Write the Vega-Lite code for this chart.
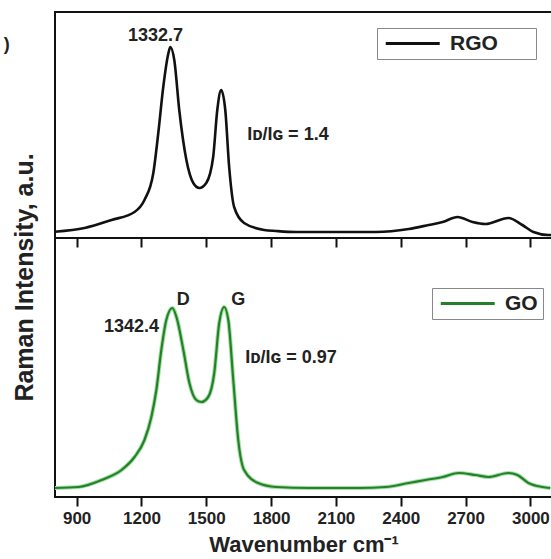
{
  "$schema": "https://vega.github.io/schema/vega-lite/v6.json",
  "padding": {"left": 2, "top": 11, "right": 0, "bottom": 0},
  "background": "white",
  "spacing": 0,
  "bounds": "flush",
  "config": {
    "view": {"stroke": "#111", "strokeWidth": 2},
    "font": "Liberation Sans",
    "axis": {"grid": false}
  },
  "datasets": {
    "rgo": [
      {"wavenumber": 800, "intensity": 6.3, "sample": "RGO"},
      {"wavenumber": 937, "intensity": 10, "sample": "RGO"},
      {"wavenumber": 1062, "intensity": 18, "sample": "RGO"},
      {"wavenumber": 1168, "intensity": 26, "sample": "RGO"},
      {"wavenumber": 1214, "intensity": 38, "sample": "RGO"},
      {"wavenumber": 1255, "intensity": 65, "sample": "RGO"},
      {"wavenumber": 1278, "intensity": 105, "sample": "RGO"},
      {"wavenumber": 1301, "intensity": 151, "sample": "RGO"},
      {"wavenumber": 1325, "intensity": 185, "sample": "RGO"},
      {"wavenumber": 1334, "intensity": 191, "sample": "RGO"},
      {"wavenumber": 1352, "intensity": 178, "sample": "RGO"},
      {"wavenumber": 1375, "intensity": 128, "sample": "RGO"},
      {"wavenumber": 1408, "intensity": 78, "sample": "RGO"},
      {"wavenumber": 1440, "intensity": 55, "sample": "RGO"},
      {"wavenumber": 1468, "intensity": 50, "sample": "RGO"},
      {"wavenumber": 1500, "intensity": 55, "sample": "RGO"},
      {"wavenumber": 1532, "intensity": 81, "sample": "RGO"},
      {"wavenumber": 1551, "intensity": 128, "sample": "RGO"},
      {"wavenumber": 1569, "intensity": 148, "sample": "RGO"},
      {"wavenumber": 1588, "intensity": 128, "sample": "RGO"},
      {"wavenumber": 1606, "intensity": 71, "sample": "RGO"},
      {"wavenumber": 1629, "intensity": 31, "sample": "RGO"},
      {"wavenumber": 1675, "intensity": 15, "sample": "RGO"},
      {"wavenumber": 1768, "intensity": 8, "sample": "RGO"},
      {"wavenumber": 1823, "intensity": 7, "sample": "RGO"},
      {"wavenumber": 1915, "intensity": 6, "sample": "RGO"},
      {"wavenumber": 2132, "intensity": 6, "sample": "RGO"},
      {"wavenumber": 2285, "intensity": 6, "sample": "RGO"},
      {"wavenumber": 2437, "intensity": 9, "sample": "RGO"},
      {"wavenumber": 2529, "intensity": 13, "sample": "RGO"},
      {"wavenumber": 2594, "intensity": 16, "sample": "RGO"},
      {"wavenumber": 2663, "intensity": 21, "sample": "RGO"},
      {"wavenumber": 2732, "intensity": 16, "sample": "RGO"},
      {"wavenumber": 2792, "intensity": 14, "sample": "RGO"},
      {"wavenumber": 2898, "intensity": 20, "sample": "RGO"},
      {"wavenumber": 2963, "intensity": 13, "sample": "RGO"},
      {"wavenumber": 3014, "intensity": 6, "sample": "RGO"},
      {"wavenumber": 3083, "intensity": 3, "sample": "RGO"},
      {"wavenumber": 3100, "intensity": 3, "sample": "RGO"}
    ],
    "go": [
      {"wavenumber": 800, "intensity": 9, "sample": "GO"},
      {"wavenumber": 909, "intensity": 10, "sample": "GO"},
      {"wavenumber": 1015, "intensity": 17, "sample": "GO"},
      {"wavenumber": 1108, "intensity": 27, "sample": "GO"},
      {"wavenumber": 1168, "intensity": 40, "sample": "GO"},
      {"wavenumber": 1214, "intensity": 57, "sample": "GO"},
      {"wavenumber": 1246, "intensity": 80, "sample": "GO"},
      {"wavenumber": 1269, "intensity": 107, "sample": "GO"},
      {"wavenumber": 1292, "intensity": 147, "sample": "GO"},
      {"wavenumber": 1315, "intensity": 177, "sample": "GO"},
      {"wavenumber": 1343, "intensity": 189, "sample": "GO"},
      {"wavenumber": 1362, "intensity": 180, "sample": "GO"},
      {"wavenumber": 1394, "intensity": 147, "sample": "GO"},
      {"wavenumber": 1422, "intensity": 114, "sample": "GO"},
      {"wavenumber": 1454, "intensity": 97, "sample": "GO"},
      {"wavenumber": 1477, "intensity": 95, "sample": "GO"},
      {"wavenumber": 1509, "intensity": 100, "sample": "GO"},
      {"wavenumber": 1537, "intensity": 124, "sample": "GO"},
      {"wavenumber": 1560, "intensity": 174, "sample": "GO"},
      {"wavenumber": 1583, "intensity": 190, "sample": "GO"},
      {"wavenumber": 1602, "intensity": 177, "sample": "GO"},
      {"wavenumber": 1625, "intensity": 117, "sample": "GO"},
      {"wavenumber": 1648, "intensity": 57, "sample": "GO"},
      {"wavenumber": 1675, "intensity": 27, "sample": "GO"},
      {"wavenumber": 1740, "intensity": 14, "sample": "GO"},
      {"wavenumber": 1823, "intensity": 10, "sample": "GO"},
      {"wavenumber": 1975, "intensity": 9, "sample": "GO"},
      {"wavenumber": 2206, "intensity": 9, "sample": "GO"},
      {"wavenumber": 2331, "intensity": 10, "sample": "GO"},
      {"wavenumber": 2437, "intensity": 14, "sample": "GO"},
      {"wavenumber": 2515, "intensity": 17, "sample": "GO"},
      {"wavenumber": 2594, "intensity": 20, "sample": "GO"},
      {"wavenumber": 2668, "intensity": 24, "sample": "GO"},
      {"wavenumber": 2746, "intensity": 22, "sample": "GO"},
      {"wavenumber": 2806, "intensity": 20, "sample": "GO"},
      {"wavenumber": 2898, "intensity": 24, "sample": "GO"},
      {"wavenumber": 2940, "intensity": 22, "sample": "GO"},
      {"wavenumber": 2991, "intensity": 14, "sample": "GO"},
      {"wavenumber": 3055, "intensity": 10, "sample": "GO"},
      {"wavenumber": 3092, "intensity": 9, "sample": "GO"}
    ]
  },
  "vconcat": [
    {
      "width": 497,
      "height": 226,
      "layer": [
        {
          "data": {"name": "rgo"},
          "mark": {"type": "line", "interpolate": "monotone", "strokeWidth": 2.6, "clip": true},
          "encoding": {
            "x": {
              "field": "wavenumber", "type": "quantitative",
              "scale": {"domain": [800, 3100], "nice": false, "zero": false},
              "axis": {
                "title": null, "labels": false, "domain": false,
                "values": [900, 1050, 1200, 1350, 1500, 1650, 1800, 1950, 2100, 2250, 2400, 2550, 2700, 2850, 3000],
                "tickColor": "#111", "tickWidth": 2,
                "tickSize": {"condition": {"test": "datum.value % 300 === 0", "value": 9}, "value": 5}
              }
            },
            "y": {
              "field": "intensity", "type": "quantitative",
              "scale": {"domain": [0, 226], "nice": false},
              "axis": {
                "title": "Raman Intensity, a.u.", "labels": false, "ticks": false, "domain": false,
                "titleX": -31, "titleY": 265, "titleAngle": -90, "titleAlign": "center", "titleBaseline": "middle",
                "titleFontSize": 25, "titleFontWeight": "bold", "titleColor": "#222", "titleFont": "Liberation Sans"
              }
            },
            "color": {
              "field": "sample", "type": "nominal",
              "scale": {"domain": ["RGO"], "range": ["#111111"]},
              "legend": {
                "orient": "none", "legendX": 322, "legendY": 16, "title": null,
                "symbolType": "M-1,0H7", "symbolSize": 182, "symbolStrokeWidth": 3,
                "labelFontSize": 21, "labelFontWeight": "bold", "labelFont": "Liberation Sans", "labelColor": "#222",
                "labelExpr": "datum.label + '   ⠀'",
                "strokeColor": "#888", "padding": 5, "labelOffset": 47
              }
            }
          }
        },
        {
          "data": {"values": [
            {"wavenumber": 1265, "intensity": 202, "label": "1332.7"},
            {"wavenumber": 1878, "intensity": 103, "label": "Iᴅ/Iɢ = 1.4"},
            {"wavenumber": 577, "intensity": 193, "label": ")"}
          ]},
          "mark": {"type": "text", "fontSize": 18, "fontWeight": "bold", "font": "Liberation Sans", "color": "#222", "baseline": "middle", "align": "center"},
          "encoding": {
            "x": {"field": "wavenumber", "type": "quantitative"},
            "y": {"field": "intensity", "type": "quantitative"},
            "text": {"field": "label", "type": "nominal"}
          }
        }
      ]
    },
    {
      "width": 497,
      "height": 259,
      "layer": [
        {
          "data": {"name": "go"},
          "mark": {"type": "line", "interpolate": "monotone", "strokeWidth": 4.2, "color": "#a6e0a6", "clip": true},
          "encoding": {
            "x": {
              "field": "wavenumber", "type": "quantitative",
              "scale": {"domain": [800, 3100], "nice": false, "zero": false},
              "axis": {
                "title": "Wavenumber cm⁻¹", "domain": false,
                "values": [900, 1050, 1200, 1350, 1500, 1650, 1800, 1950, 2100, 2250, 2400, 2550, 2700, 2850, 3000],
                "format": "d",
                "labelExpr": "datum.value % 300 === 0 ? datum.label : ''",
                "tickColor": "#111", "tickWidth": 2,
                "tickSize": {"condition": {"test": "datum.value % 300 === 0", "value": 9}, "value": 5},
                "labelFontSize": 17, "labelFontWeight": "bold", "labelFont": "Liberation Sans", "labelColor": "#222",
                "labelPadding": 4, "labelFlush": false,
                "titleFontSize": 22, "titleFontWeight": "bold", "titleFont": "Liberation Sans", "titleColor": "#222",
                "titlePadding": 8
              }
            },
            "y": {
              "field": "intensity", "type": "quantitative",
              "scale": {"domain": [0, 259], "nice": false},
              "axis": null
            }
          }
        },
        {
          "data": {"name": "go"},
          "mark": {"type": "line", "interpolate": "monotone", "strokeWidth": 2.2, "clip": true},
          "encoding": {
            "x": {"field": "wavenumber", "type": "quantitative"},
            "y": {"field": "intensity", "type": "quantitative"},
            "color": {
              "field": "sample", "type": "nominal",
              "scale": {"domain": ["GO"], "range": ["#25802a"]},
              "legend": {
                "orient": "none", "legendX": 377, "legendY": 50, "title": null,
                "symbolType": "M-1,0H7", "symbolSize": 182, "symbolStrokeWidth": 3,
                "labelFontSize": 21, "labelFontWeight": "bold", "labelFont": "Liberation Sans", "labelColor": "#222",
                "strokeColor": "#888", "padding": 5, "labelOffset": 47
              }
            }
          }
        },
        {
          "data": {"values": [
            {"wavenumber": 1394, "intensity": 197, "label": "D"},
            {"wavenumber": 1648, "intensity": 197, "label": "G"},
            {"wavenumber": 1154, "intensity": 170, "label": "1342.4"},
            {"wavenumber": 1892, "intensity": 139, "label": "Iᴅ/Iɢ = 0.97"}
          ]},
          "mark": {"type": "text", "fontSize": 18, "fontWeight": "bold", "font": "Liberation Sans", "color": "#222", "baseline": "middle", "align": "center"},
          "encoding": {
            "x": {"field": "wavenumber", "type": "quantitative"},
            "y": {"field": "intensity", "type": "quantitative"},
            "text": {"field": "label", "type": "nominal"}
          }
        }
      ]
    }
  ],
  "resolve": {"scale": {"color": "independent"}}
}
